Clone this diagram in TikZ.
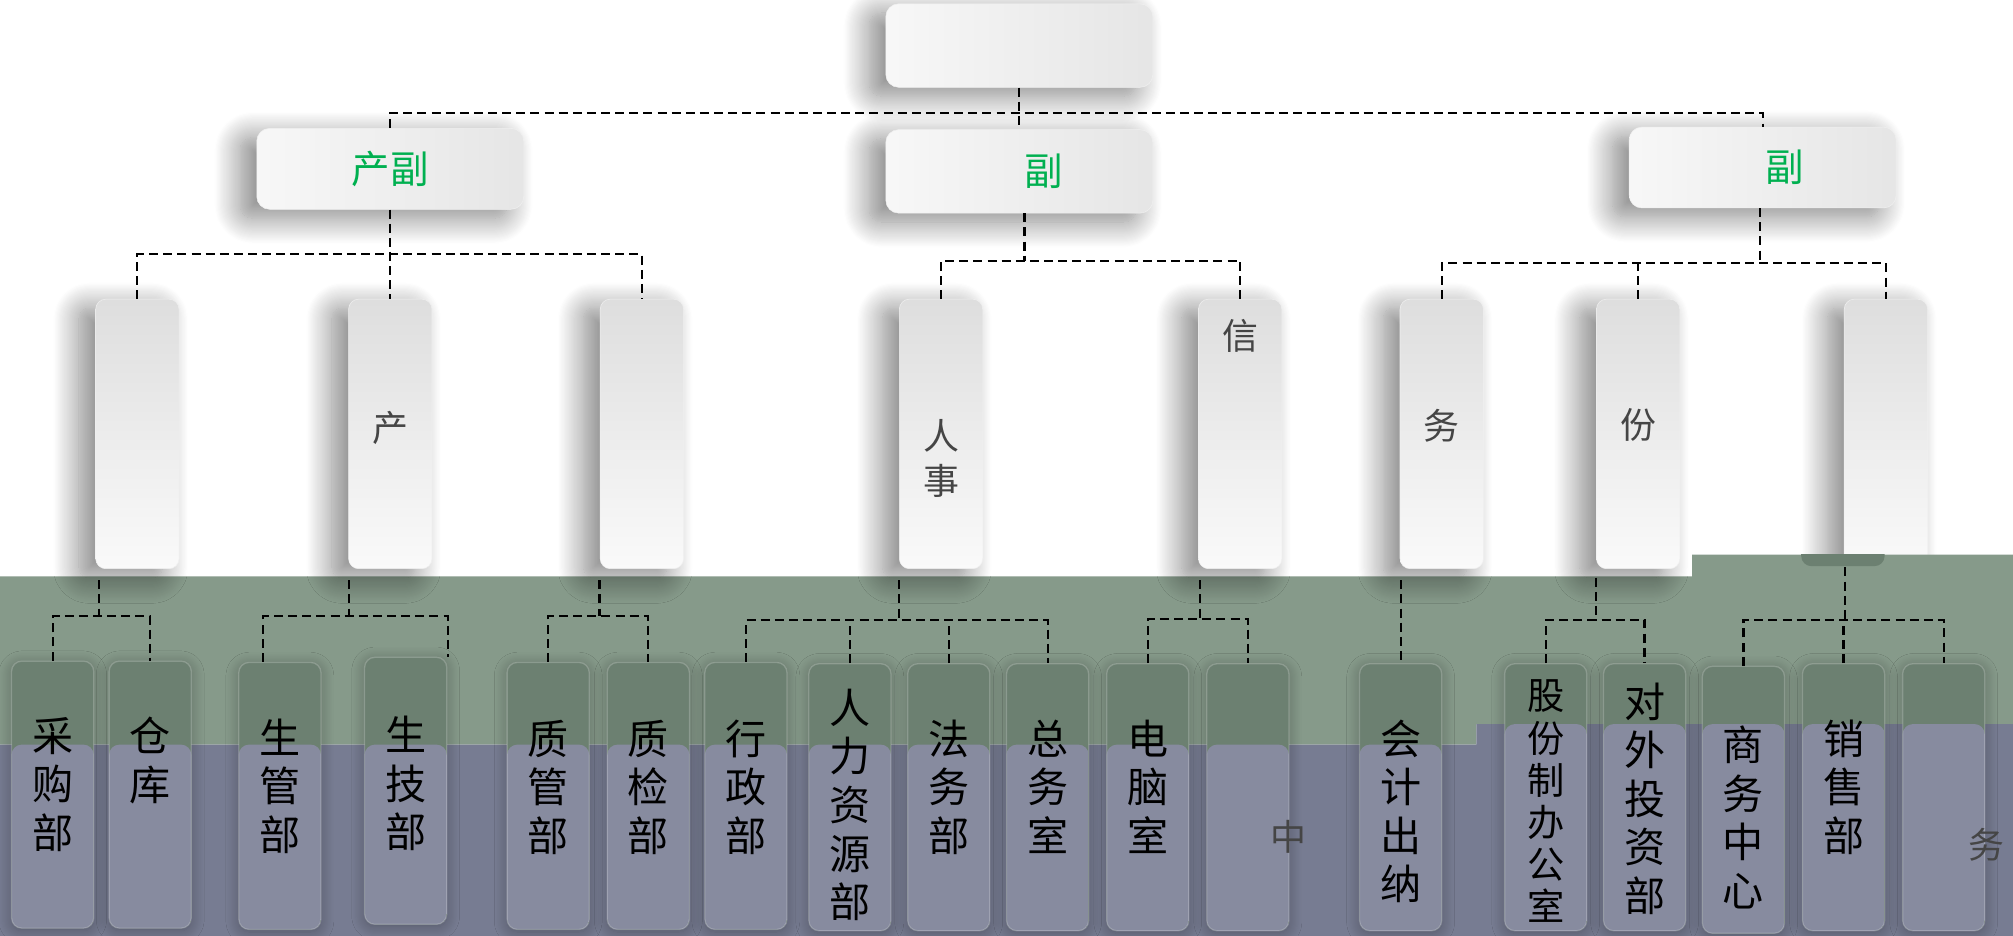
\documentclass[tikz,border=0pt]{standalone}
\usepackage{fontspec}
\setmainfont{Noto Sans CJK SC}
\usetikzlibrary{shadows.blur}

\definecolor{vpgreen}{HTML}{00B050}
\definecolor{bandgreen}{HTML}{869A8A}
\definecolor{bandblue}{HTML}{777C92}
\definecolor{boxgreen}{HTML}{6C8071}
\definecolor{boxblue}{HTML}{878B9F}
\definecolor{softtext}{HTML}{454545}

\begin{document}
\begin{tikzpicture}[x=1pt, y=-1pt, every node/.style={inner sep=0pt},
        boxshadow/.style={blur shadow={shadow xshift=-13pt, shadow yshift=-7pt, shadow blur radius=20pt, shadow blur steps=24, shadow opacity=48}},
        headbox/.style={boxshadow, rounded corners=10pt, left color=gray!6, right color=gray!20, draw=gray!12, minimum width=208pt, minimum height=#1},
        deptbox/.style={boxshadow, rounded corners=8pt, top color=gray!26, bottom color=gray!4, draw=gray!12, minimum width=65pt, minimum height=210pt},
        unitbox/.style={rounded corners=8pt, fill=boxgreen, draw=white, draw opacity=0.2, line width=1pt, minimum width=64pt, minimum height=208pt,
            blur shadow={shadow xshift=0pt, shadow yshift=-2pt, shadow blur radius=10pt, shadow blur steps=12, shadow opacity=30},
            path picture={\fill[boxblue] (path picture bounding box.south west) rectangle (path picture bounding box.east |- #1);}},
        conn/.style={dash pattern=on 7pt off 4pt, line width=1.7pt},
        vptext/.style={text=vpgreen, font=\fontsize{30}{32}\selectfont},
        depttext/.style={text=softtext, font=\fontsize{28}{35}\selectfont, align=center},
        unittext/.style={anchor=north, yshift=-#1, font=\fontsize{32}{37.8}\selectfont, align=center}]
        
        \useasboundingbox (0,0) rectangle (1568,729);
        \coordinate (bl) at (0,580);
        \coordinate (br) at (0,564);
        
        % box under the band
        \node[deptbox] (d8) at (1469,338) {};
        
        % bands
        \fill[bandgreen] (0,449) -- (1318,449) -- (1318,432) -- (1568,432) -- (1568,564) -- (1150,564) -- (1150,580) -- (0,580) -- cycle;
        \fill[bandblue] (0,580) -- (1150,580) -- (1150,564) -- (1568,564) -- (1568,729) -- (0,729) -- cycle;
        \begin{scope}
            \clip (1390,432) rectangle (1480,450);
            \fill[boxgreen, rounded corners=8pt] (1403,380) rectangle (1468,441);
        \end{scope}
        
        \node[headbox=65pt] (gm) at (794,35.5) {};
        \node[headbox=63pt, label={[vptext]center:产副}] (vp1) at (304,131.5) {};
        \node[headbox=65pt, label={[vptext, xshift=19pt]center:副}] (vp2) at (794,133.5) {};
        \node[headbox=63pt, label={[vptext, xshift=17pt]center:副}] (vp3) at (1373,130.5) {};
        
        \node[deptbox] (d1) at (107,338) {};
        \node[deptbox, label={[depttext, yshift=5pt]center:产}] (d2) at (304,338) {};
        \node[deptbox] (d3) at (500,338) {};
        \node[deptbox, label={[depttext, yshift=-19pt]center:{人\\事}}] (d4) at (733,338) {};
        \node[deptbox, label={[depttext, yshift=76pt]center:信}] (d5) at (966,338) {};
        \node[deptbox, label={[depttext, yshift=6pt]center:务}] (d6) at (1123,338) {};
        \node[deptbox, label={[depttext, yshift=7pt]center:份}] (d7) at (1276,338) {};
        
        \node[unitbox=bl, label={[unittext=44pt]north:{采\\购\\部}}] (s1) at (41,619) {};
        \node[unitbox=bl, label={[unittext=44pt]north:{仓\\库}}] (s2) at (117,619) {};
        \node[unitbox=bl, label={[unittext=44pt]north:{生\\管\\部}}] (s3) at (218,620) {};
        \node[unitbox=bl, label={[unittext=46pt]north:{生\\技\\部}}] (s4) at (316,616) {};
        \node[unitbox=bl, label={[unittext=45pt]north:{质\\管\\部}}] (s5) at (427,620) {};
        \node[unitbox=bl, label={[unittext=45pt]north:{质\\检\\部}}] (s6) at (505,620) {};
        \node[unitbox=bl, label={[unittext=45pt]north:{行\\政\\部}}] (s7) at (581,620) {};
        \node[unitbox=bl, label={[unittext=20pt]north:{人\\力\\资\\源\\部}}] (s8) at (662,621) {};
        \node[unitbox=bl, label={[unittext=44pt]north:{法\\务\\部}}] (s9) at (739,621) {};
        \node[unitbox=bl, label={[unittext=44pt]north:{总\\务\\室}}] (s10) at (816,621) {};
        \node[unitbox=bl, label={[unittext=44pt]north:{电\\脑\\室}}] (s11) at (894,621) {};
        \node[unitbox=bl, label={[depttext, xshift=32pt, yshift=-31pt]center:中}] (s12) at (972,621) {};
        \node[unitbox=bl, label={[unittext=44pt]north:{会\\计\\出\\纳}}] (s13) at (1091,621) {};
        \node[unitbox=br, label={[unittext=13pt, font=\fontsize{29}{32.8}\selectfont]north:{股\\份\\制\\办\\公\\室}}] (s14) at (1204,621) {};
        \node[unitbox=br, label={[unittext=15pt]north:{对\\外\\投\\资\\部}}] (s15) at (1281,621) {};
        \node[unitbox=br, label={[unittext=47pt]north:{商\\务\\中\\心}}] (s16) at (1358,623) {};
        \node[unitbox=br, label={[unittext=44pt]north:{销\\售\\部}}] (s17) at (1436,621) {};
        \node[unitbox=br, label={[depttext, xshift=33pt, yshift=-37pt]center:务}] (s18) at (1514,621) {};
        
        % top levels
        \coordinate (j0) at (794,88);
        \draw[conn] (gm.south) -- (vp2.north);
        \draw[conn] (vp1.north) |- (j0) -| (vp3.north);
        
        \coordinate (j1) at (304,198);
        \draw[conn] (vp1.south) -- (j1) -- (d2.north);
        \draw[conn] (d1.north) |- (j1) -| (d3.north);
        \coordinate (j2) at (798,203);
        \draw[conn] (vp2.south -| j2) -- (j2);
        \draw[conn] (d4.north) |- (j2) -| (d5.north);
        \coordinate (j3) at (1371,205);
        \draw[conn] (vp3.south -| j3) -- (j3);
        \draw[conn] (d6.north) |- (j3) -| (d8.north);
        \draw[conn] (d7.north) -- (d7.north |- j3);
        
        % lower level
        \coordinate (t1) at (77,452);
        \coordinate (k1) at (77,480);
        \draw[conn] (t1) -- (k1);
        \draw[conn] (s1.north) |- (k1) -| (s2.north);
        \coordinate (t2) at (272,452);
        \coordinate (k2) at (272,480);
        \draw[conn] (t2) -- (k2);
        \draw[conn] ([xshift=-13pt]s3.north) |- (k2) -| ([xshift=33pt]s4.north);
        \coordinate (t3) at (467,452);
        \coordinate (k3) at (467,480);
        \draw[conn] (t3) -- (k3);
        \draw[conn] (s5.north) |- (k3) -| (s6.north);
        \coordinate (t4) at (700,452);
        \coordinate (k4) at (700,483);
        \draw[conn] (t4) -- (k4);
        \draw[conn] (s7.north) |- (k4) -| (s10.north);
        \draw[conn] (s8.north) -- (s8.north |- k4);
        \draw[conn] (s9.north) -- (s9.north |- k4);
        \coordinate (t5) at (935,452);
        \coordinate (k5) at (935,482);
        \draw[conn] (t5) -- (k5);
        \draw[conn] (s11.north) |- (k5) -| (s12.north);
        \coordinate (t6) at (1091,452);
        \draw[conn] (t6) -- (s13.north);
        \coordinate (t7) at (1243,450);
        \coordinate (k7) at (1243,483);
        \draw[conn] (t7) -- (k7);
        \draw[conn] (s14.north) |- (k7) -| (s15.north);
        \coordinate (t8) at (1437,442);
        \coordinate (k8) at (1437,483);
        \draw[conn] (t8) -- (k8);
        \draw[conn] (s16.north) |- (k8) -| (s18.north);
        \draw[conn] (s17.north) -- (s17.north |- k8);
        
\end{tikzpicture}
\end{document}
